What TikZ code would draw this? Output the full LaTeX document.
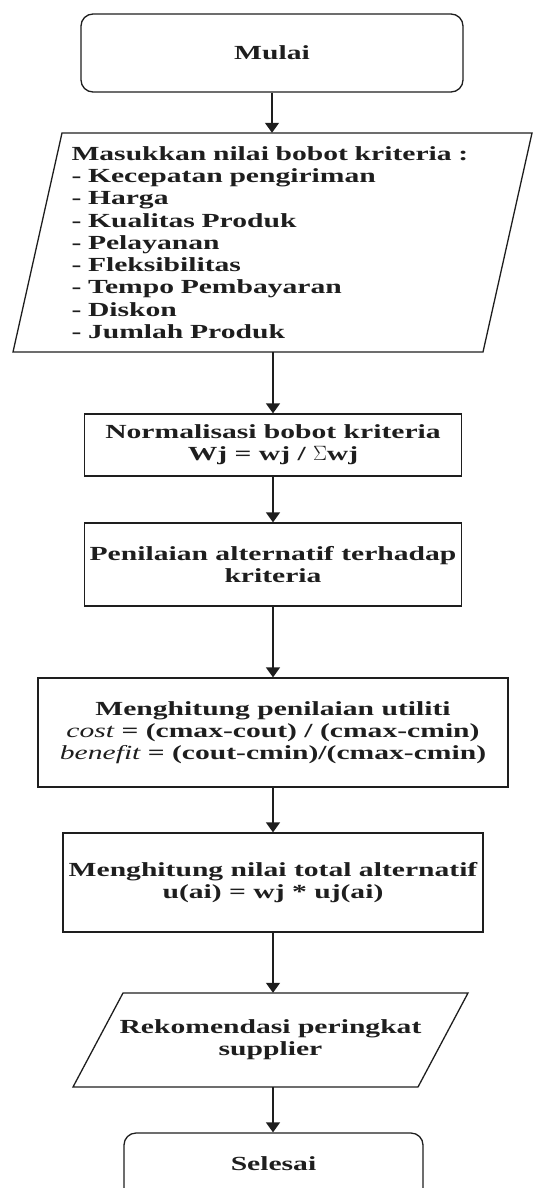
\documentclass[tikz,border=0pt]{standalone}
\usepackage{fontspec}
\setmainfont{Liberation Serif}[FakeStretch=1.48]
\usetikzlibrary{arrows.meta}
\definecolor{ink}{HTML}{1E1E1E}
\tikzset{
  box/.style={draw=ink, line width=1.3pt, rectangle, align=center, inner sep=0pt,
    font=\fontsize{20}{22.3}\selectfont\bfseries, text=ink},
  terminal/.style={box, rounded corners=12pt},
  label/.style={inner sep=0pt, font=\fontsize{20}{22.3}\selectfont\bfseries, text=ink},
  shape line/.style={draw=ink, line width=1.3pt, line join=miter},
  arr/.style={draw=ink, line width=1.3pt, -{Triangle[width=14pt,length=10pt]}},
}
\begin{document}
\begin{tikzpicture}[x=1pt, y=-1pt]
\useasboundingbox (0,0) rectangle (536,1188);
\clip (0,0) rectangle (536,1188);

% start terminal
\node[terminal, minimum width=382pt, minimum height=78pt] (start) at (272,53) {Mulai};

% input of criteria weights
\draw[shape line] (62,133) -- (532,133) -- (483,352) -- (13,352) -- cycle;
\node[label, text width=401pt, align=left, minimum height=219pt] (inp) at (272,242.5)
  {Masukkan nilai bobot kriteria :\\
   - Kecepatan pengiriman\\
   - Harga\\
   - Kualitas Produk\\
   - Pelayanan\\
   - Fleksibilitas\\
   - Tempo Pembayaran\\
   - Diskon\\
   - Jumlah Produk};

% process steps
\node[box, minimum width=377pt, minimum height=62pt] (norm) at (273,445)
  {Normalisasi bobot kriteria\\Wj = wj / \(\Sigma\)wj};
\node[box, minimum width=377pt, minimum height=83pt] (pen) at (273,564.5)
  {Penilaian alternatif terhadap\\kriteria};
\node[box, minimum width=470pt, minimum height=109pt] (util) at (273,732.5)
  {Menghitung penilaian utiliti\\
   {\mdseries\itshape cost} = (cmax-cout) / (cmax-cmin)\\
   {\mdseries\itshape benefit} = (cout-cmin)/(cmax-cmin)};
\node[box, minimum width=420pt, minimum height=99pt] (total) at (273,882.5)
  {Menghitung nilai total alternatif\\u(ai) = wj * uj(ai)};

% output of the ranking
\draw[shape line] (123,993) -- (468,993) -- (418,1087) -- (73,1087) -- cycle;
\node[label, align=center, minimum height=94pt] (out) at (270.5,1040)
  {Rekomendasi peringkat\\supplier};

% end terminal (runs past the lower edge of the page)
\node[terminal, minimum width=299pt, minimum height=74pt, text height=0pt, text depth=0pt]
  (stop) at (273.5,1170) {Selesai};

% connectors
\draw[arr] (start.south -| inp.north) -- (inp.north);
\draw[arr] (inp.south -| norm.north) -- (norm.north);
\draw[arr] (norm.south) -- (pen.north);
\draw[arr] (pen.south) -- (util.north);
\draw[arr] (util.south) -- (total.north);
\draw[arr] (total.south) -- (total.south |- out.north);
\draw[arr] (out.south -| total.south) -- (stop.north -| total.south);
\end{tikzpicture}
\end{document}
